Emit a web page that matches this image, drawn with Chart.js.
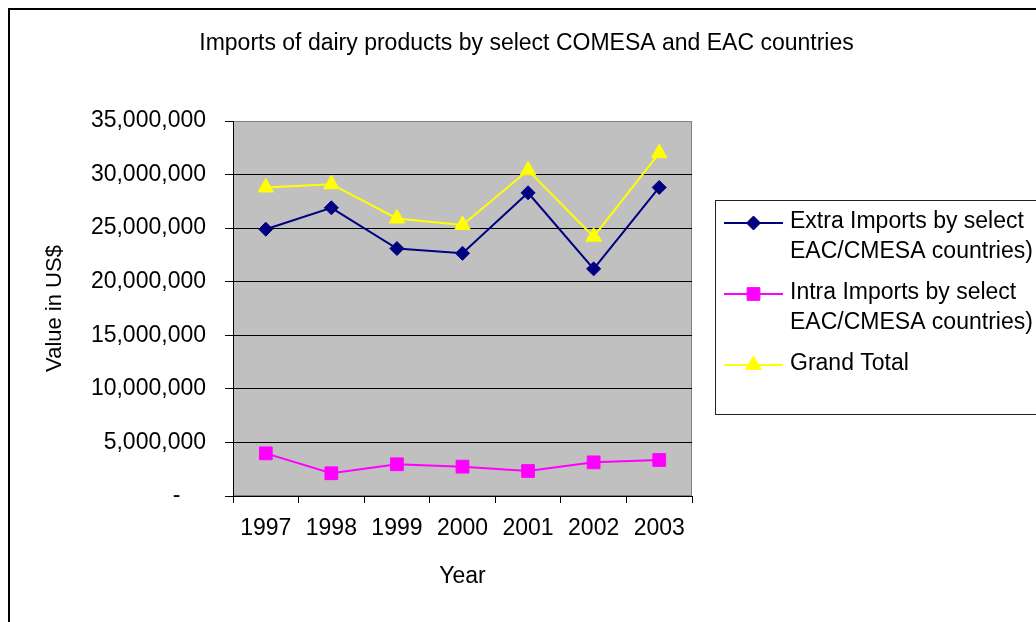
<!DOCTYPE html>
<html><head><meta charset="utf-8">
<script src="https://cdn.jsdelivr.net/npm/chart.js@4/dist/chart.umd.min.js"></script>
<style>
html,body{margin:0;padding:0;background:#fff;overflow:hidden;width:1036px;height:622px}
#wrap{position:relative;width:1036px;height:622px}
#frame{position:absolute;left:8px;top:8px;width:1100px;height:700px;border:2px solid #000;pointer-events:none}
canvas{position:absolute;left:0;top:0}
</style></head><body>
<div id="wrap"><canvas id="c" width="1036" height="622"></canvas><div id="frame"></div></div>
<script>
const chartTitle = 'Imports of dairy products by select COMESA and EAC countries';
const xAxisTitle = 'Year';
const yAxisTitle = 'Value in US$';
const years = ['1997', '1998', '1999', '2000', '2001', '2002', '2003'];
const extraImports = [24900000, 26900000, 23100000, 22650000, 28300000, 21200000, 28800000];
const intraImports = [3980000, 2120000, 2960000, 2740000, 2330000, 3140000, 3360000];
const grandTotal   = [28800000, 29100000, 25900000, 25300000, 30400000, 24200000, 32000000];
const seriesNames = [
  ['Extra Imports by select', 'EAC/CMESA countries)'],
  ['Intra Imports by select', 'EAC/CMESA countries)'],
  ['Grand Total']
];
const yTickValues = [0, 5000000, 10000000, 15000000, 20000000, 25000000, 30000000, 35000000];
const yTickLabels = ['-    ', '5,000,000', '10,000,000', '15,000,000', '20,000,000', '25,000,000', '30,000,000', '35,000,000'];

const FONT = '"Liberation Sans", Arial, sans-serif';
Chart.defaults.font.family = FONT;
Chart.defaults.color = '#000';

const plotBg = {
  id: 'plotBg',
  beforeDraw(chart) {
    const {ctx, chartArea: a} = chart;
    ctx.save();
    ctx.fillStyle = '#C0C0C0';
    ctx.fillRect(a.left, a.top, a.right - a.left, a.bottom - a.top);
    ctx.strokeStyle = '#808080';
    ctx.lineWidth = 1;
    ctx.strokeRect(Math.round(a.left) + 0.5, Math.round(a.top) + 0.5, Math.round(a.right - a.left) - 1, Math.round(a.bottom - a.top) - 1);
    ctx.restore();
  }
};

const customLegend = {
  id: 'customLegend',
  afterDraw(chart) {
    const ctx = chart.ctx;
    ctx.save();
    ctx.strokeStyle = '#222';
    ctx.lineWidth = 1;
    ctx.strokeRect(715.5, 200.5, 400, 214);
    ctx.font = '23px ' + FONT;
    ctx.textBaseline = 'middle';
    ctx.textAlign = 'left';
    let y = 222;
    chart.data.datasets.forEach((ds, i) => {
      const lines = seriesNames[i];
      ctx.strokeStyle = ds.borderColor;
      ctx.lineWidth = ds.borderWidth;
      ctx.beginPath();
      ctx.moveTo(724, y + 1);
      ctx.lineTo(783, y + 1);
      ctx.stroke();
      ctx.fillStyle = ds.pointBackgroundColor;
      ctx.strokeStyle = ds.pointBorderColor;
      ctx.lineWidth = 1;
      Chart.helpers.drawPoint(ctx, {pointStyle: ds.pointStyle, radius: ds.pointRadius, rotation: 0, borderWidth: 1}, 753.5, y + 1);
      ctx.fillStyle = '#000';
      lines.forEach((t, j) => ctx.fillText(t, 790, y + j * 30));
      y += (lines.length - 1) * 30 + 41;
    });
    ctx.restore();
  }
};

new Chart(document.getElementById('c'), {
  type: 'line',
  data: {
    labels: years,
    datasets: [
      {label: seriesNames[0].join(' '), data: extraImports, borderColor: '#000080', backgroundColor: '#000080',
       pointBackgroundColor: '#000080', pointBorderColor: '#000080', borderWidth: 2, pointStyle: 'rectRot', pointRadius: 7, pointBorderWidth: 1, tension: 0},
      {label: seriesNames[1].join(' '), data: intraImports, borderColor: '#FF00FF', backgroundColor: '#FF00FF',
       pointBackgroundColor: '#FF00FF', pointBorderColor: '#FF00FF', borderWidth: 2, pointStyle: 'rect', pointRadius: 9, pointBorderWidth: 1, tension: 0},
      {label: seriesNames[2].join(' '), data: grandTotal, borderColor: '#FFFF00', backgroundColor: '#FFFF00',
       pointBackgroundColor: '#FFFF00', pointBorderColor: '#FFFF00', borderWidth: 2, pointStyle: 'triangle', pointRadius: 9, pointBorderWidth: 1, tension: 0}
    ]
  },
  options: {
    responsive: false,
    animation: false,
    devicePixelRatio: 1,
    events: [],
    layout: {padding: {left: 17, right: 0, top: 0, bottom: 0}},
    plugins: {
      legend: {display: false},
      tooltip: {enabled: false},
      title: {display: true, text: chartTitle, color: '#000', font: {size: 23, weight: 'normal', family: FONT}, padding: {top: 30, bottom: 63.4}}
    },
    scales: {
      x: {
        type: 'category',
        offset: true,
        grid: {display: true, drawOnChartArea: false, drawTicks: true, tickLength: 7, offset: true, color: '#000', tickColor: '#000'},
        border: {display: true, color: '#000', width: 1},
        ticks: {font: {size: 23}, color: '#000', padding: 12, maxRotation: 0, autoSkip: false},
        title: {display: true, text: xAxisTitle, color: '#000', font: {size: 23}, padding: {top: 8.6, bottom: 31.2}}
      },
      y: {
        type: 'linear',
        min: 0, max: 35000000,
        afterFit(s) { s.width = 216; },
        afterBuildTicks(s) { s.ticks = yTickValues.map(v => ({value: v})); },
        grid: {color: c => (c.tick && c.tick.value === 35000000 ? '#808080' : '#000'), tickColor: '#000', tickLength: 8, drawTicks: true},
        border: {display: true, color: '#000', width: 1},
        ticks: {font: {size: 23}, color: '#000', padding: 19, callback: (v) => { const i = yTickValues.indexOf(v); return i >= 0 ? yTickLabels[i] : ''; }},
        title: {display: true, text: yAxisTitle, color: '#000', font: {size: 22}, padding: {top: 25, bottom: 0}}
      },
      yRight: {
        type: 'linear',
        position: 'right',
        display: true,
        afterFit(s) { s.width = 344; },
        grid: {display: false, drawTicks: false},
        border: {display: false},
        ticks: {display: false}
      }
    }
  },
  plugins: [plotBg, customLegend]
});
</script>
</body></html>
